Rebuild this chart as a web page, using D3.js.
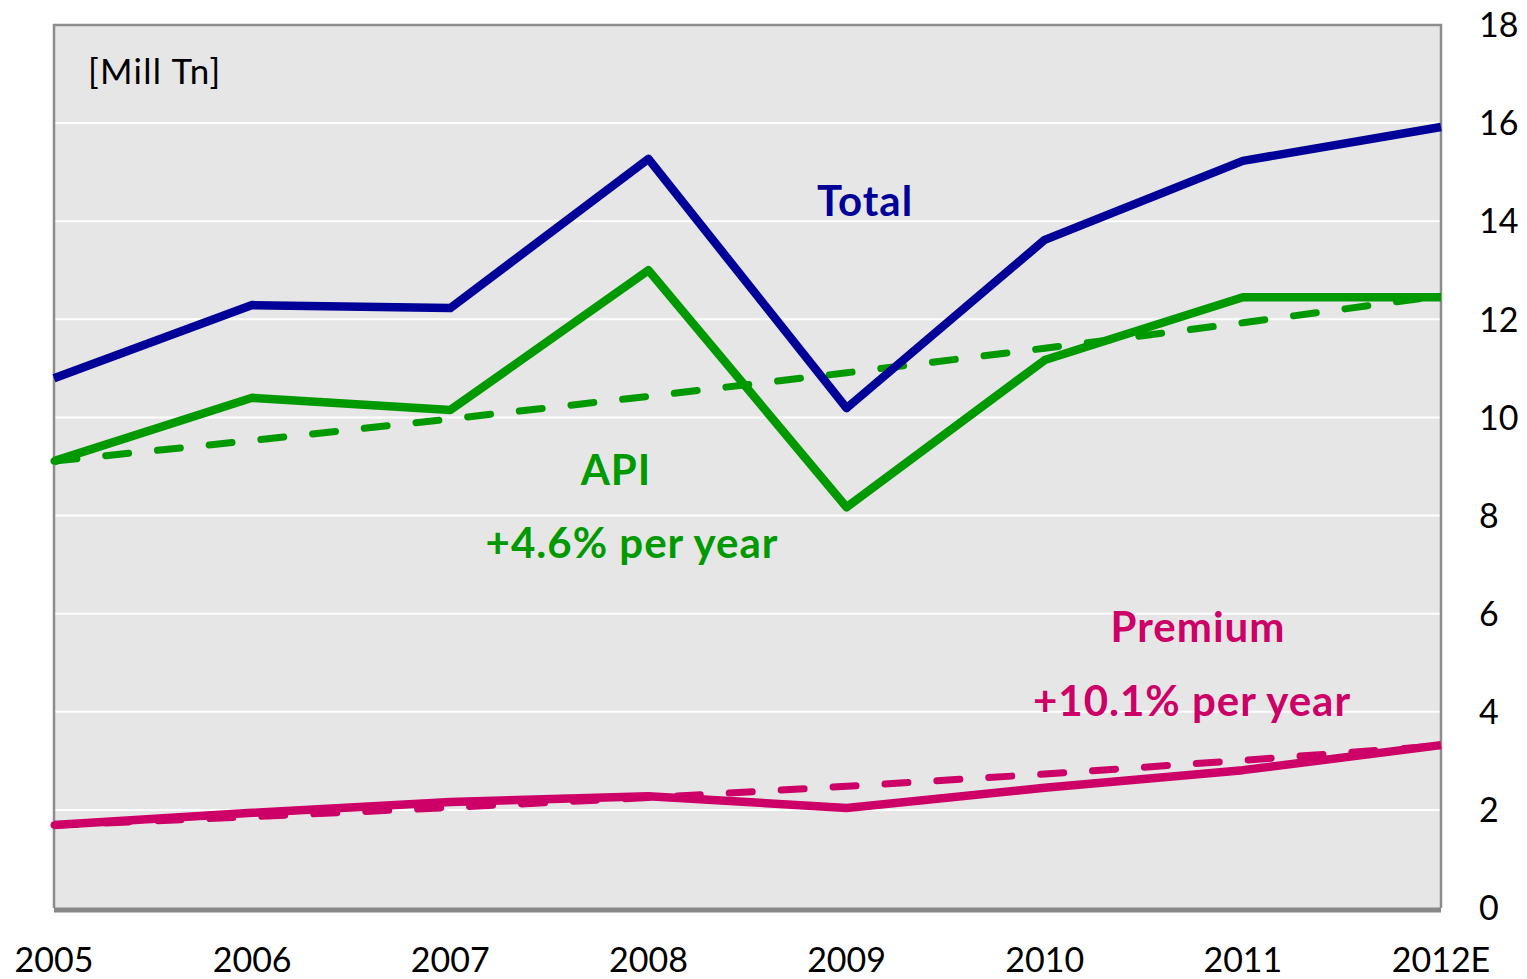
<!DOCTYPE html>
<html>
<head>
<meta charset="utf-8">
<script src="https://cdn.jsdelivr.net/npm/d3@7"></script>
<style>
  body { margin: 0; background: #fff; }
  svg text { font-family: Lato, "Open Sans", sans-serif; }
</style>
</head>
<body>
<svg width="1527" height="979"></svg>
<script>
let years = ['2005', '2006', '2007', '2008', '2009', '2010', '2011', '2012E'];
let total = [10.8, 12.29, 12.23, 15.27, 10.19, 13.62, 15.23, 15.92];
let api = [9.11, 10.4, 10.15, 13.0, 8.17, 11.17, 12.45, 12.45];
let apiTrend = [9.11, 9.53, 9.97, 10.43, 10.91, 11.41, 11.93, 12.48];
let premium = [1.69, 1.94, 2.16, 2.28, 2.04, 2.45, 2.81, 3.32];
let premiumTrend = [1.69, 1.86, 2.05, 2.25, 2.48, 2.73, 3.01, 3.31];
let yTicks = [0, 2, 4, 6, 8, 10, 12, 14, 16, 18];

let plotLeft = 54;
let plotRight = 1441;
let plotTop = 25;
let plotBottom = 908;

let svg = d3.select('svg');

let x = d3.scalePoint().domain(years).range([plotLeft, plotRight]);
let y = d3.scaleLinear().domain([0, 18]).range([plotBottom, plotTop]);

// plot background
svg.append('rect')
  .attr('x', plotLeft).attr('y', plotTop)
  .attr('width', plotRight - plotLeft).attr('height', plotBottom - plotTop)
  .attr('fill', '#e6e6e6');

// gridlines
svg.append('g')
  .selectAll('line')
  .data(yTicks.filter((d) => d > 0 && d < 18))
  .enter()
  .append('line')
  .attr('x1', plotLeft).attr('x2', plotRight)
  .attr('y1', (d) => y(d)).attr('y2', (d) => y(d))
  .attr('stroke', '#fff')
  .attr('stroke-width', 2);

// frame
svg.append('path')
  .attr('d', `M${plotLeft},${plotBottom}V${plotTop}H${plotRight}V${plotBottom}`)
  .attr('fill', 'none')
  .attr('stroke', '#8c8c8c')
  .attr('stroke-width', 2.5);
svg.append('line')
  .attr('x1', plotLeft).attr('x2', plotRight)
  .attr('y1', plotBottom + 2).attr('y2', plotBottom + 2)
  .attr('stroke', '#888')
  .attr('stroke-width', 5);

let line = d3.line()
  .x((d, i) => x(years[i]))
  .y((d) => y(d));

let series = [
  { values: apiTrend, color: '#009900', dash: true },
  { values: premiumTrend, color: '#cc0066', dash: true },
  { values: total, color: '#000099', dash: false },
  { values: api, color: '#009900', dash: false },
  { values: premium, color: '#cc0066', dash: false },
];

svg.append('g')
  .selectAll('path')
  .data(series)
  .enter()
  .append('path')
  .attr('d', (d) => line(d.values))
  .attr('fill', 'none')
  .attr('stroke', (d) => d.color)
  .attr('stroke-width', (d) => (d.dash ? 7 : 8.5))
  .attr('stroke-linecap', (d) => (d.dash ? 'round' : 'butt'))
  .attr('stroke-linejoin', 'round')
  .attr('stroke-dasharray', (d) => (d.dash ? '23,29' : null));

// right axis labels
svg.append('g')
  .selectAll('text')
  .data(yTicks)
  .enter()
  .append('text')
  .attr('x', 1479)
  .attr('y', (d) => y(d))
  .attr('dy', '0.36em')
  .attr('font-size', 34)
  .attr('fill', '#000')
  .text((d) => d);

// x axis labels
svg.append('g')
  .selectAll('text')
  .data(years)
  .enter()
  .append('text')
  .attr('x', (d) => x(d))
  .attr('y', 972)
  .attr('text-anchor', 'middle')
  .attr('font-size', 34)
  .attr('fill', '#000')
  .text((d) => d);

svg.append('text')
  .attr('x', 88).attr('y', 84)
  .attr('font-size', 35)
  .attr('letter-spacing', 1.3)
  .attr('fill', '#000')
  .text('[Mill Tn]');

let labels = [
  { text: 'Total', x: 865, y: 216, color: '#000099' },
  { text: 'API', x: 616, y: 485, color: '#009900' },
  { text: '+4.6% per year', x: 632, y: 558, color: '#009900' },
  { text: 'Premium', x: 1198, y: 642, color: '#cc0066' },
  { text: '+10.1% per year', x: 1192, y: 716, color: '#cc0066' },
];

svg.append('g')
  .selectAll('text')
  .data(labels)
  .enter()
  .append('text')
  .attr('x', (d) => d.x)
  .attr('y', (d) => d.y)
  .attr('text-anchor', 'middle')
  .attr('font-size', 42)
  .attr('letter-spacing', 1)
  .attr('font-weight', 'bold')
  .attr('fill', (d) => d.color)
  .text((d) => d.text);
</script>
</body>
</html>
